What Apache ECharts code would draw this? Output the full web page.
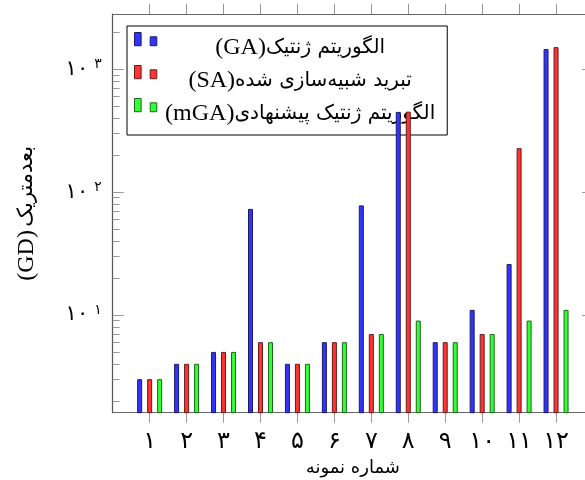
<!DOCTYPE html>
<html dir="rtl">
<head>
<meta charset="utf-8">
<script src="https://cdn.jsdelivr.net/npm/echarts@6/dist/echarts.min.js"></script>
<style>
html,body{margin:0;padding:0;background:#fff;}
#c{width:585px;height:480px;}
</style>
</head>
<body>
<div id="c"></div>
<script>
// ---- data ----
const categories = [1, 2, 3, 4, 5, 6, 7, 8, 9, 10, 11, 12];
const xTickLabels = ['۱', '۲', '۳', '۴', '۵', '۶', '۷', '۸', '۹', '۱۰', '۱۱', '۱۲'];
const seriesArabic = ['الگوریتم ژنتیک', 'تبرید شبیه‌سازی شده', 'الگوریتم ژنتیک پیشنهادی'];
const seriesLatin = ['GA', 'SA', 'mGA'];
const gaValues  = [3, 4, 5, 73, 4, 6, 78, 450, 6, 11, 26, 1460];
const saValues  = [3, 4, 5, 6, 4, 6, 7, 452, 6, 7, 228, 1515];
const mgaValues = [3, 4, 5, 6, 4, 6, 7, 9, 6, 7, 9, 11];
const yMajorTicks = [10, 100, 1000];
const yMajorBase = '۱۰';
const yMajorExp = ['۱', '۲', '۳'];
const yMinorTicks = [2, 3, 4, 5, 6, 7, 8, 9, 20, 30, 40, 50, 60, 70, 80, 90, 200, 300, 400, 500, 600, 700, 800, 900, 2000];
const yMin = 1.6, yMax = 2820;
const xMin = 0, xMax = 13;
const yTitleArabic = 'بعدمتریک', yTitleLatin = 'GD';
const xTitle = 'شماره نمونه';

const SERIF = "'Liberation Serif', 'DejaVu Sans', serif";
const ARAB = "'DejaVu Sans', sans-serif";
const colors = ['#3333ff', '#ff3333', '#33ff33'];
const borders = ['#1a1a66', '#661a1a', '#1a661a'];
const valuesList = [gaValues, saValues, mgaValues];
const seriesNames = seriesArabic.map((a, i) => a + '(' + seriesLatin[i] + ')');
const legendIcon = 'path://M0,0h6.7v13.4h-6.7z M15.9,4.4h6.7v9h-6.7z M0,30.4L0.01,30.4';

const chart = echarts.init(document.getElementById('c'), null, {renderer: 'canvas'});

function yAxisDef(pos, major, withLabel) {
  const ticks = major ? yMajorTicks : yMinorTicks;
  return {
    type: 'log', min: yMin, max: yMax, position: pos,
    axisLine: {show: major, lineStyle: {color: '#555', width: 1.2}},
    axisTick: {show: true, inside: true, length: major ? 11 : 7, customValues: ticks,
               lineStyle: {color: '#999', width: 1}},
    axisLabel: withLabel ? {
      show: true, customValues: yMajorTicks, margin: 11,
      formatter: function (v) {
        const i = yMajorTicks.indexOf(v);
        return '{b|' + yMajorBase + '}{s|' + (i >= 0 ? yMajorExp[i] : '') + '}';
      },
      rich: {
        b: {fontSize: 21, fontFamily: ARAB, color: '#000', lineHeight: 24},
        s: {fontSize: 14, fontFamily: ARAB, color: '#000', lineHeight: 14, verticalAlign: 'top', padding: [0, 0, 0, 6]}
      }
    } : {show: false},
    splitLine: {show: false},
    minorTick: {show: false},
    name: withLabel ? '{l|(' + yTitleLatin + ')} {a|' + yTitleArabic + '}' : '',
    nameLocation: 'middle', nameRotate: 90, nameGap: 74,
    nameTextStyle: {
      color: '#000',
      rich: {
        l: {fontSize: 24, fontFamily: SERIF, color: '#000'},
        a: {fontSize: 21, fontFamily: ARAB, color: '#000'}
      }
    }
  };
}

function xAxisDef(pos, withLabel) {
  return {
    type: 'value', min: xMin, max: xMax, position: pos,
    axisLine: {show: true, lineStyle: {color: '#666', width: 1.2}},
    axisTick: {show: true, inside: false, length: 10, customValues: categories,
               lineStyle: {color: '#999', width: 1}},
    axisLabel: withLabel ? {
      show: true, customValues: categories, margin: 17,
      formatter: function (v) { const i = categories.indexOf(v); return i >= 0 ? xTickLabels[i] : ''; },
      fontSize: 24, fontFamily: ARAB, color: '#000'
    } : {show: false},
    splitLine: {show: false},
    name: withLabel ? xTitle : '',
    nameLocation: 'middle', nameGap: 47,
    nameTextStyle: {fontSize: 18, fontFamily: ARAB, color: '#000'}
  };
}

const option = {
  animation: false,
  backgroundColor: '#fff',
  grid: {left: 112.7, right: -8, top: 14, bottom: 67.3, containLabel: false, outerBoundsMode: 'none'},
  xAxis: [xAxisDef('bottom', true), xAxisDef('top', false)],
  yAxis: [yAxisDef('left', true, true), yAxisDef('left', false, false),
          yAxisDef('right', true, false), yAxisDef('right', false, false)],
  legend: {
    orient: 'vertical', left: 127, top: 26,
    padding: [6, 12, 6, 7], itemGap: 2, itemWidth: 23, itemHeight: 30,
    backgroundColor: '#fff', borderColor: '#000', borderWidth: 1, borderRadius: 0,
    z: 3,
    data: seriesNames.map(n => ({name: n, icon: legendIcon})),
    itemStyle: {borderWidth: 1},
    formatter: function (name) {
      const i = seriesNames.indexOf(name);
      return '{l|(' + seriesLatin[i] + ')}{a|' + seriesArabic[i] + '}';
    },
    textStyle: {
      width: 276, align: 'center', color: '#000',
      rich: {
        l: {fontSize: 24, fontFamily: SERIF, color: '#000', align: 'center', lineHeight: 26},
        a: {fontSize: 20, fontFamily: ARAB, color: '#000', align: 'center', lineHeight: 26}
      }
    }
  },
  series: valuesList.map((vals, si) => ({
    name: seriesNames[si], type: 'bar',
    xAxisIndex: 0, yAxisIndex: 0,
    data: categories.map((c, i) => [c, vals[i]]),
    barWidth: 5, barGap: '100%',
    itemStyle: {color: colors[si], borderColor: borders[si], borderWidth: 1},
    z: 5, clip: true
  }))
};
chart.setOption(option);
</script>
</body>
</html>
